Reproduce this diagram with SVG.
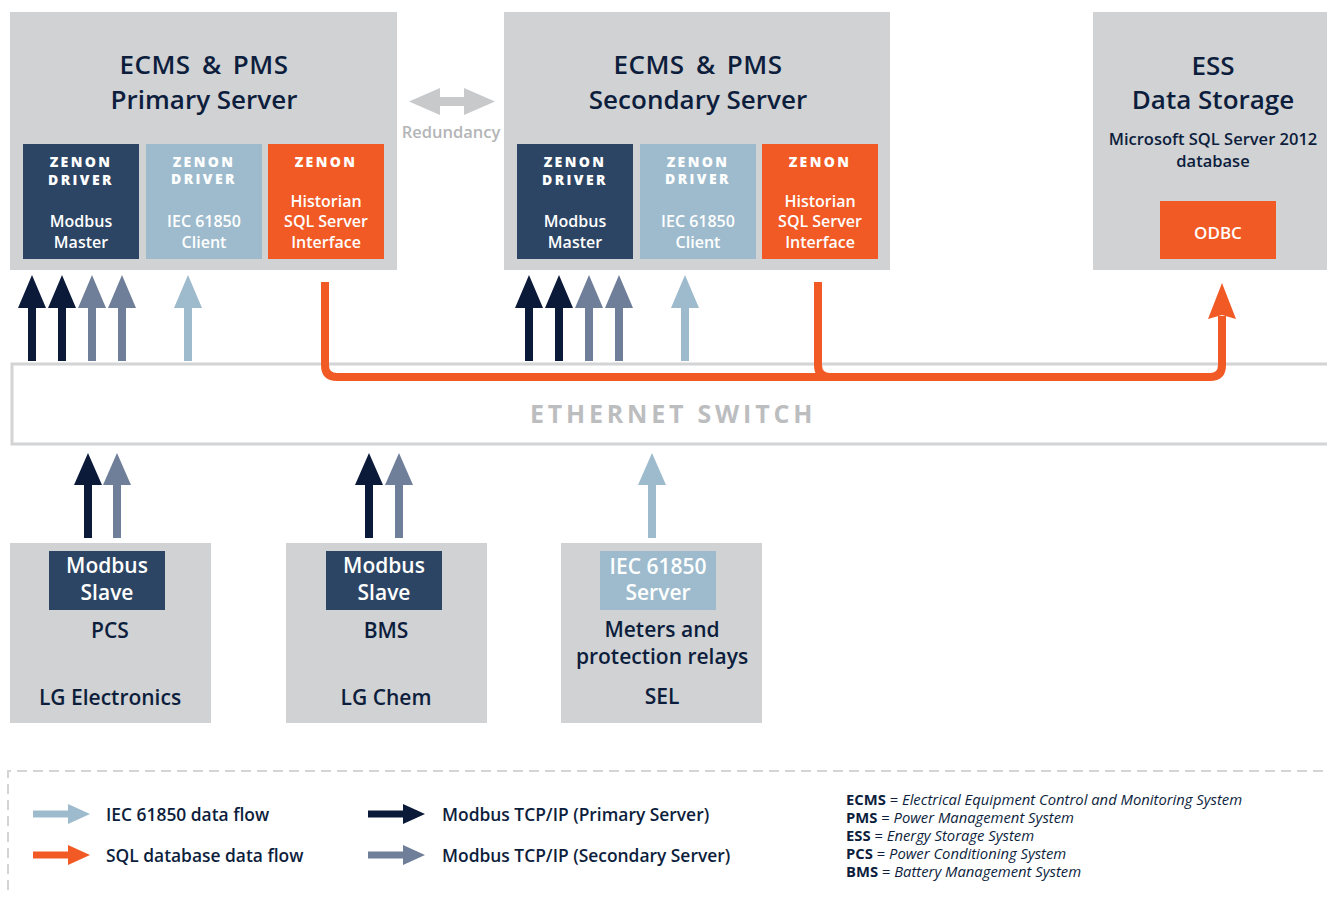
<svg xmlns="http://www.w3.org/2000/svg" width="1327" height="901" viewBox="0 0 1327 901">
<style>
text{font-family:"Open Sans","Noto Sans","Liberation Sans",sans-serif;text-anchor:middle}
.box{fill:#d1d2d4}
.dk{fill:#2c4564}
.lb{fill:#9dbbcd}
.or{fill:#f15a24}
.t1{font-size:26px;font-weight:600;fill:#0d1e3d}
.w{word-spacing:4px;letter-spacing:0.5px}
.z{font-size:14px;font-weight:800;fill:#fff;letter-spacing:2.4px}
.s{font-size:16px;font-weight:600;fill:#fff}
.s2{font-size:16.5px;font-weight:600;fill:#0d1e3d}
.b{font-size:21px;font-weight:600;fill:#fff}
.n{font-size:21px;font-weight:600;fill:#0d1e3d}
.lg{font-size:17.4px;font-weight:600;fill:#0d1e3d;text-anchor:start}
.ab{font-size:14.8px;fill:#0d1e3d;text-anchor:start}
.ab tspan.k{font-weight:700}
.ab tspan.v{font-style:italic}
.a1{fill:#0c1a3a}
.a2{fill:#6f7f99}
.a3{fill:#9dbbcd}
.a4{fill:#f15a24}
</style>
<defs>
<path id="up" d="M0,0 L14,33 L4,33 L4,86 L-4,86 L-4,33 L-14,33 Z"/>
<path id="up2" d="M0,0 L14,32 L4,32 L4,85 L-4,85 L-4,32 L-14,32 Z"/>
<path id="rt" d="M0,-3.5 L35,-3.5 L35,-10 L57,0 L35,10 L35,3.5 L0,3.5 Z"/>
</defs>

<g id="switch">
<rect x="12" y="364" width="1330" height="80" fill="#fff" stroke="#d3d4d6" stroke-width="3"/>
<text x="673" y="423" style="font-size:25px;font-weight:700;fill:#bcbdbf;letter-spacing:3.8px">ETHERNET SWITCH</text>
</g>

<g id="primary">
<rect class="box" x="10" y="12" width="387" height="258"/>
<text class="t1 w" x="204" y="74">ECMS &amp; PMS</text>
<text class="t1" x="204" y="109">Primary Server</text>
<rect class="dk" x="23" y="144" width="116" height="115"/>
<text class="z" x="81" y="167">ZENON</text>
<text class="z" x="81" y="185">DRIVER</text>
<text class="s" x="81" y="227">Modbus</text>
<text class="s" x="81" y="248">Master</text>
<rect class="lb" x="146" y="144" width="116" height="115"/>
<text class="z" x="204" y="167">ZENON</text>
<text class="z" x="204" y="184">DRIVER</text>
<text class="s" x="204" y="227">IEC 61850</text>
<text class="s" x="204" y="248">Client</text>
<rect class="or" x="268" y="144" width="116" height="115"/>
<text class="z" x="326" y="167">ZENON</text>
<text class="s" x="326" y="207">Historian</text>
<text class="s" x="326" y="227">SQL Server</text>
<text class="s" x="326" y="248">Interface</text>
</g>

<g id="redundancy">
<path fill="#c8c9cb" d="M409,101.5 L440,88 L440,97 L464,97 L464,88 L495,101.5 L464,115 L464,106 L440,106 L440,115 Z"/>
<text x="451" y="138" style="font-size:16.5px;font-weight:600;fill:#b4b5b7">Redundancy</text>
</g>

<g id="secondary">
<rect class="box" x="504" y="12" width="386" height="258"/>
<text class="t1 w" x="698" y="74">ECMS &amp; PMS</text>
<text class="t1" x="698" y="109">Secondary Server</text>
<rect class="dk" x="517" y="144" width="116" height="115"/>
<text class="z" x="575" y="167">ZENON</text>
<text class="z" x="575" y="185">DRIVER</text>
<text class="s" x="575" y="227">Modbus</text>
<text class="s" x="575" y="248">Master</text>
<rect class="lb" x="640" y="144" width="116" height="115"/>
<text class="z" x="698" y="167">ZENON</text>
<text class="z" x="698" y="184">DRIVER</text>
<text class="s" x="698" y="227">IEC 61850</text>
<text class="s" x="698" y="248">Client</text>
<rect class="or" x="762" y="144" width="116" height="115"/>
<text class="z" x="820" y="167">ZENON</text>
<text class="s" x="820" y="207">Historian</text>
<text class="s" x="820" y="227">SQL Server</text>
<text class="s" x="820" y="248">Interface</text>
</g>

<g id="ess">
<rect class="box" x="1093" y="12" width="240" height="258"/>
<text class="t1" x="1213" y="75">ESS</text>
<text class="t1" x="1213" y="109">Data Storage</text>
<text class="s2" x="1213" y="145">Microsoft SQL Server 2012</text>
<text class="s2" x="1213" y="167">database</text>
<rect class="or" x="1160" y="201" width="116" height="58"/>
<text class="s" x="1218" y="239" style="font-size:17px">ODBC</text>
</g>

<g id="pcs">
<rect class="box" x="10" y="543" width="201" height="180"/>
<rect class="dk" x="49" y="551" width="116" height="59"/>
<text class="b" x="107" y="573">Modbus</text>
<text class="b" x="107" y="600">Slave</text>
<text class="n" x="110" y="638">PCS</text>
<text class="n" x="110" y="705">LG Electronics</text>
</g>

<g id="bms">
<rect class="box" x="286" y="543" width="201" height="180"/>
<rect class="dk" x="326" y="551" width="116" height="59"/>
<text class="b" x="384" y="573">Modbus</text>
<text class="b" x="384" y="600">Slave</text>
<text class="n" x="386" y="638">BMS</text>
<text class="n" x="386" y="705">LG Chem</text>
</g>

<g id="sel">
<rect class="box" x="561" y="543" width="201" height="180"/>
<rect class="lb" x="600" y="551" width="116" height="59"/>
<text class="b" x="658" y="574">IEC 61850</text>
<text class="b" x="658" y="600">Server</text>
<text class="n" x="662" y="637">Meters and</text>
<text class="n" x="662" y="664">protection relays</text>
<text class="n" x="662" y="704">SEL</text>
</g>

<g id="connectors">
<use href="#up" x="32" y="275" class="a1"/>
<use href="#up" x="62" y="275" class="a1"/>
<use href="#up" x="92" y="275" class="a2"/>
<use href="#up" x="122" y="275" class="a2"/>
<use href="#up" x="188" y="275" class="a3"/>
<use href="#up" x="529" y="275" class="a1"/>
<use href="#up" x="559" y="275" class="a1"/>
<use href="#up" x="589" y="275" class="a2"/>
<use href="#up" x="619" y="275" class="a2"/>
<use href="#up" x="685" y="275" class="a3"/>
<use href="#up2" x="88" y="453" class="a1"/>
<use href="#up2" x="117" y="453" class="a2"/>
<use href="#up2" x="369" y="453" class="a1"/>
<use href="#up2" x="399" y="453" class="a2"/>
<use href="#up2" x="652" y="453" class="a3"/>
<path d="M325,282 V365 Q325,377 337,377 H1210 Q1222,377 1222,365 V316" fill="none" stroke="#f15a24" stroke-width="8"/>
<path d="M818,282 V365 Q818,377 830,377" fill="none" stroke="#f15a24" stroke-width="8"/>
<path class="a4" d="M1222,283 L1236,319 L1222,315 L1208,319 Z"/>
</g>

<g id="legend">
<path d="M8,890 V771 H1327" fill="none" stroke="#d3d4d6" stroke-width="2" stroke-dasharray="10 6"/>
<use href="#rt" x="33" y="814" class="a3"/>
<text class="lg" x="106" y="821">IEC 61850 data flow</text>
<use href="#rt" x="33" y="855" class="a4"/>
<text class="lg" x="106" y="862">SQL database data flow</text>
<use href="#rt" x="368" y="814" class="a1"/>
<text class="lg" x="442" y="821">Modbus TCP/IP (Primary Server)</text>
<use href="#rt" x="368" y="855" class="a2"/>
<text class="lg" x="442" y="862">Modbus TCP/IP (Secondary Server)</text>
<text class="ab" x="846" y="805"><tspan class="k">ECMS</tspan> = <tspan class="v">Electrical Equipment Control and Monitoring System</tspan></text>
<text class="ab" x="846" y="823"><tspan class="k">PMS</tspan> = <tspan class="v">Power Management System</tspan></text>
<text class="ab" x="846" y="841"><tspan class="k">ESS</tspan> = <tspan class="v">Energy Storage System</tspan></text>
<text class="ab" x="846" y="859"><tspan class="k">PCS</tspan> = <tspan class="v">Power Conditioning System</tspan></text>
<text class="ab" x="846" y="877"><tspan class="k">BMS</tspan> = <tspan class="v">Battery Management System</tspan></text>
</g>
</svg>
